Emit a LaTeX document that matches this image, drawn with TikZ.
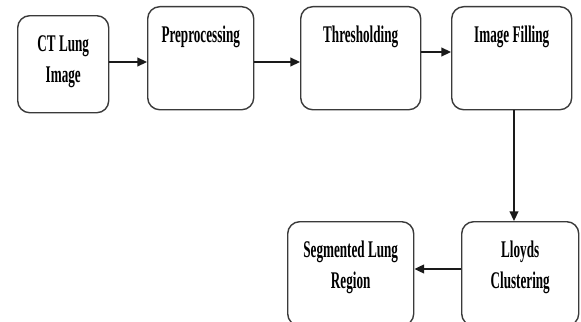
\documentclass[tikz,border=0pt]{standalone}
\usepackage{fontspec}
\newfontfamily\stagefont{Liberation Serif}[FakeStretch=0.55]
\usetikzlibrary{arrows.meta, positioning}
\definecolor{fEdge}{HTML}{3A3A3A}
\definecolor{fArrow}{HTML}{1A1A1A}

\begin{document}
\begin{tikzpicture}[x=0.025cm, y=-0.025cm,
  every node/.style={font=\stagefont\bfseries\fontsize{17}{22}\selectfont},
  stage/.style={draw=fEdge, line width=1pt, rounded corners=0.3cm, inner sep=0pt,
                align=center, text height=0.9cm, anchor=north west,
                execute at begin node={\spaceskip=2.4pt\relax}},
  flow/.style={-{Triangle[length=0.24cm, width=0.22cm]}, line width=1pt, fArrow}]
  \useasboundingbox (0,0) rectangle (581,322);
  % top row
  \node[stage, text width=2.275cm, text depth=1.525cm] (ct) at (17,15) {CT Lung\\Image};
  \node[stage, text width=2.65cm, text depth=1.675cm] (pre) at (147,6) {Preprocessing};
  \node[stage, text width=3cm, text depth=1.675cm] (thr) at (300,6) {Thresholding};
  \node[stage, text width=3cm, text depth=1.675cm] (fill) at (451,6) {Image Filling};
  % bottom row
  \node[stage, text width=2.925cm, text depth=1.7cm] (lloyd) at (461,221) {Lloyds\\Clustering};
  \node[stage, text width=3.15cm, text depth=1.7cm] (seg) at (287,221) {Segmented Lung\\Region};
  % connectors
  \draw[flow] (ct.east |- 0,62) -- (pre.west |- 0,62);
  \draw[flow] (pre.east |- 0,62) -- (thr.west |- 0,62);
  \draw[flow] (thr.east |- 0,52) -- (fill.west |- 0,52);
  \draw[flow] (fill.south -| 514,0) -- (lloyd.north -| 514,0);
  \draw[flow] (lloyd.west |- 0,269) -- (seg.east |- 0,269);
\end{tikzpicture}
\end{document}
